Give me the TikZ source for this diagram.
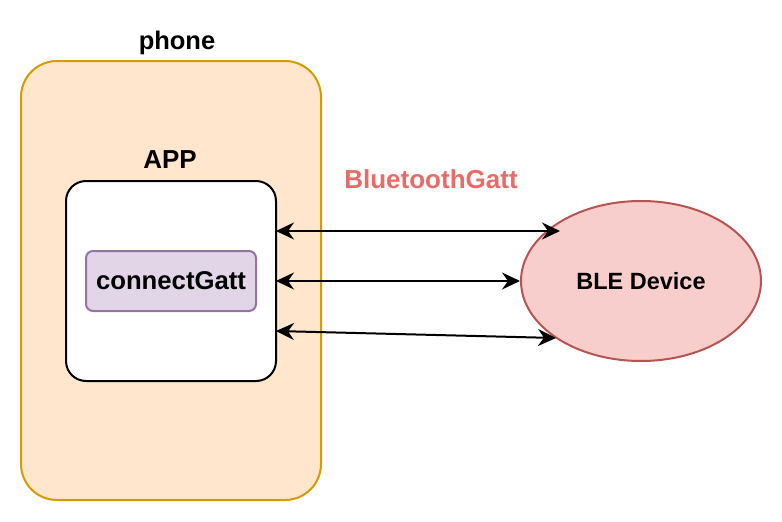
\documentclass[tikz,border=0pt]{standalone}
\usepackage{fontspec}
\setmainfont{Liberation Sans}
\usetikzlibrary{arrows.meta,shapes.geometric}
\definecolor{phonefill}{HTML}{FFE6CC}
\definecolor{phonedraw}{HTML}{D79B00}
\definecolor{gattfill}{HTML}{E1D5E7}
\definecolor{gattdraw}{HTML}{9673A6}
\definecolor{blefill}{HTML}{F8CECC}
\definecolor{bledraw}{HTML}{B85450}
\definecolor{redtext}{HTML}{EA6B66}
\tikzset{
  lbl/.style={font=\bfseries\fontsize{#1}{#1}\selectfont, inner sep=0pt},
  bordw/.style={line width=2pt},
  linkarrow/.style={draw=black, line width=2pt, {Stealth[length=18pt,width=17pt,inset=6pt]}-{Stealth[length=18pt,width=17pt,inset=6pt]}},
}
\begin{document}
\begin{tikzpicture}[x=1pt,y=-1pt]
\useasboundingbox (0,0) rectangle (782,522);
% phone
\draw[fill=phonefill, draw=phonedraw, bordw, rounded corners=36pt] (21,61) rectangle (321,500);
\node[lbl=25.5] (phonelbl) at (177,43) {phone};
% APP
\node[draw=black, fill=white, bordw, rounded corners=20pt, minimum width=210pt, minimum height=200pt, inner sep=0pt] (app) at (171,281) {};
\node[lbl=26] (applbl) at (170,160) {APP};
% connectGatt
\node[draw=gattdraw, fill=gattfill, bordw, rounded corners=7pt, minimum width=170pt, minimum height=60pt, inner sep=0pt, lbl=25.7] (gatt) at (171,281) {connectGatt};
% BLE
\node[ellipse, draw=bledraw, fill=blefill, bordw, minimum width=240pt, minimum height=160pt, inner sep=0pt, lbl=23.5] (ble) at (641,281) {BLE Device};
\node[lbl=26, text=redtext] (bt) at (431,179) {BluetoothGatt};
% connectors
\coordinate (a1) at (276,231);
\coordinate (a2) at (276,281);
\coordinate (a3) at (276,331);
\coordinate (b1) at (560,231);
\coordinate (b3) at (556,338);
\draw[line width=2pt, {Stealth[length=18pt,width=17pt,inset=6pt]}-{Stealth[length=18pt,width=17pt,inset=6pt]}] (a1) -- (b1);
\draw[line width=2pt, {Stealth[length=18pt,width=17pt,inset=6pt]}-{Stealth[length=18pt,width=17pt,inset=6pt]}] (a2) -- (ble.west);
\draw[line width=2pt, {Stealth[length=18pt,width=17pt,inset=6pt]}-{Stealth[length=18pt,width=17pt,inset=6pt]}] (a3) -- (b3);
\end{tikzpicture}
\end{document}
